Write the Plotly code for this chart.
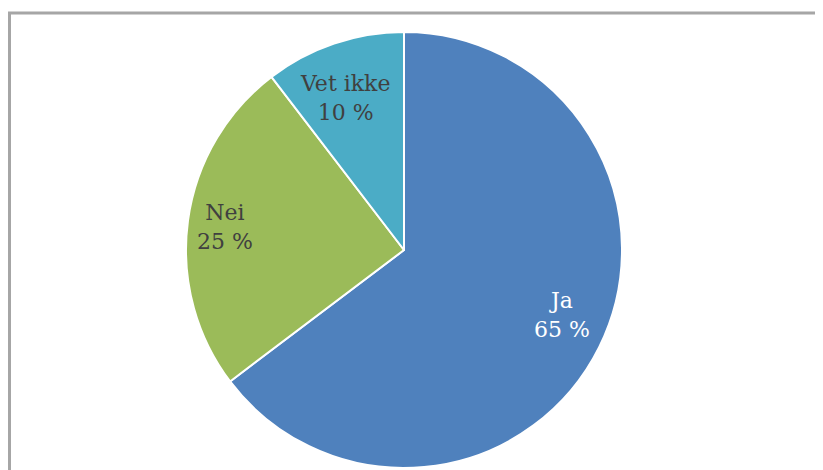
import math
import plotly.graph_objects as go

labels = ["Ja", "Nei", "Vet ikke"]
values = [64.7, 24.9, 10.4]   # shares (%)
colors = ["#4F81BD", "#9BBB59", "#4BACC6"]
text_colors = ["#FFFFFF", "#404040", "#404040"]
label_radius = [0.785, 0.826, 0.748]
label_angle_shift = [-4.1, -0.4, -2.5]

W, H = 823, 470
cx, cy, R = 396, 242, 218  # pie centre / radius in figure pixels

fig = go.Figure(go.Pie(
    labels=labels,
    values=values,
    sort=False,
    direction="clockwise",
    rotation=0,
    marker=dict(colors=colors, line=dict(color="#FFFFFF", width=2)),
    textinfo="none",
    hoverinfo="label+percent",
    domain=dict(x=[(cx - R) / W, (cx + R) / W], y=[1 - (cy + R) / H, 1 - (cy - R) / H]),
    showlegend=False,
))

annotations = []
total = sum(values)
cum = 0
for lab, v, tc, rf, sh in zip(labels, values, text_colors, label_radius, label_angle_shift):
    mid = (cum + v / 2) / total * 2 * math.pi + math.radians(sh)
    cum += v
    px = cx + rf * R * math.sin(mid)
    py = cy - rf * R * math.cos(mid)
    annotations.append(dict(
        x=px / W, y=1 - py / H, xref="paper", yref="paper",
        text=f"{lab}<br>{v / total * 100:.0f} %", showarrow=False,
        font=dict(family="DejaVu Serif", size=22, color=tc),
        xanchor="center", yanchor="middle",
    ))

fig.update_layout(
    width=W, height=H,
    margin=dict(l=0, r=0, t=0, b=0),
    paper_bgcolor="#FFFFFF",
    plot_bgcolor="#FFFFFF",
    annotations=annotations,
    shapes=[
        dict(type="line", xref="paper", yref="paper", x0=0, x1=1.01, y0=1 - 5 / H, y1=1 - 5 / H,
             line=dict(color="#A6A6A6", width=3)),
        dict(type="line", xref="paper", yref="paper", x0=1.5 / W, x1=1.5 / W, y0=-0.01, y1=1 - 4 / H,
             line=dict(color="#A6A6A6", width=3)),
    ],
)

fig.write_html("out.html")
